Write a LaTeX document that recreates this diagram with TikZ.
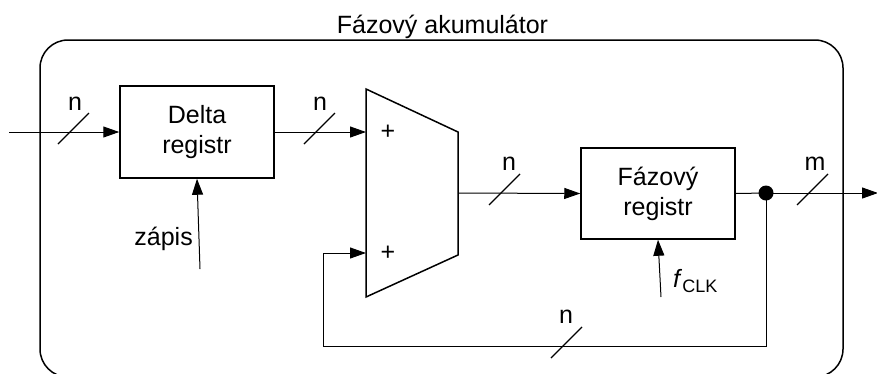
\documentclass[tikz,border=0pt]{standalone}
\usepackage{fontspec}
\setmainfont{Liberation Sans}
\usetikzlibrary{arrows.meta,calc}
\begin{document}
\begin{tikzpicture}[x=1pt,y=-1pt,
  conn/.style={line width=1pt,-{Triangle[length=16pt,width=11pt]}},
  wire/.style={line width=1pt},
  blk/.style={draw,line width=1.5pt,minimum width=154pt,inner sep=0pt,align=center,font=\fontsize{25}{30}\selectfont},
  lbl/.style={font=\fontsize{25}{30}\selectfont,inner sep=0pt},
  busmark/.style={line width=1.3pt}]
\useasboundingbox (0,0) rectangle (877,373);
\clip (0,0) rectangle (877,373);
% outer frame
\draw[line width=1.5pt,rounded corners=28pt] (40,40) rectangle (843,377);
\node[lbl,anchor=base] (title) at (442.5,33) {Fázový akumulátor};
% blocks
\node[blk,minimum height=92pt] (delta) at (197,132) {Delta\\registr};
\node[blk,minimum height=91pt] (faz) at (658,193.5) {Fázový\\registr};
% adder
\coordinate (addin1) at (366,132);
\coordinate (addin2) at (366,253);
\coordinate (addout) at (458,193);
\draw[line width=1.5pt,line join=miter] (366,89) -- (458,132) -- (458,255) -- (366,297) -- cycle;
\node[lbl] (plus1) at (388,132) {+};
\node[lbl] (plus2) at (388,253) {+};
% dot
\node[circle,fill,inner sep=0pt,minimum size=15pt] (dot) at (766,193) {};
% coordinates
\coordinate (in) at (9,132);
\coordinate (out) at (878,193);
\coordinate (zap) at (200,269);
\coordinate (clk) at (661,297);
\coordinate (fb) at (323,346);
% connectors
\draw[conn] (in) -- (delta.west);
\draw[conn] (delta.east) -- (addin1);
\draw[conn] (addout) -- (faz.west);
\draw[wire] (faz.east) -- (dot.center);
\draw[conn] (dot.center) -- (out);
\draw[conn] (zap) -- (delta.south);
\draw[conn] (clk) -- (faz.south);
\draw[conn] (dot.center) |- (fb) |- (addin2);
% bus marks
\foreach \p in {(70,132),(316,132),(501,193),(809,193),(563,346)}
  \draw[busmark] \p ++(-12,12) -- ++(31,-31);
% labels
\node[lbl,anchor=base] (n1) at (75,110) {n};
\node[lbl,anchor=base] (n2) at (320,110) {n};
\node[lbl,anchor=base] (n3) at (509,170) {n};
\node[lbl,anchor=base] (m1) at (815,170) {m};
\node[lbl,anchor=base] (n4) at (566,323) {n};
\node[lbl,anchor=base east] (zapis) at (193,245) {zápis};
\node[lbl,anchor=base west] (fclk) at (673,287) {\textit{f}\raisebox{-0.2em}{\fontsize{18}{18}\selectfont CLK}};
\end{tikzpicture}
\end{document}
